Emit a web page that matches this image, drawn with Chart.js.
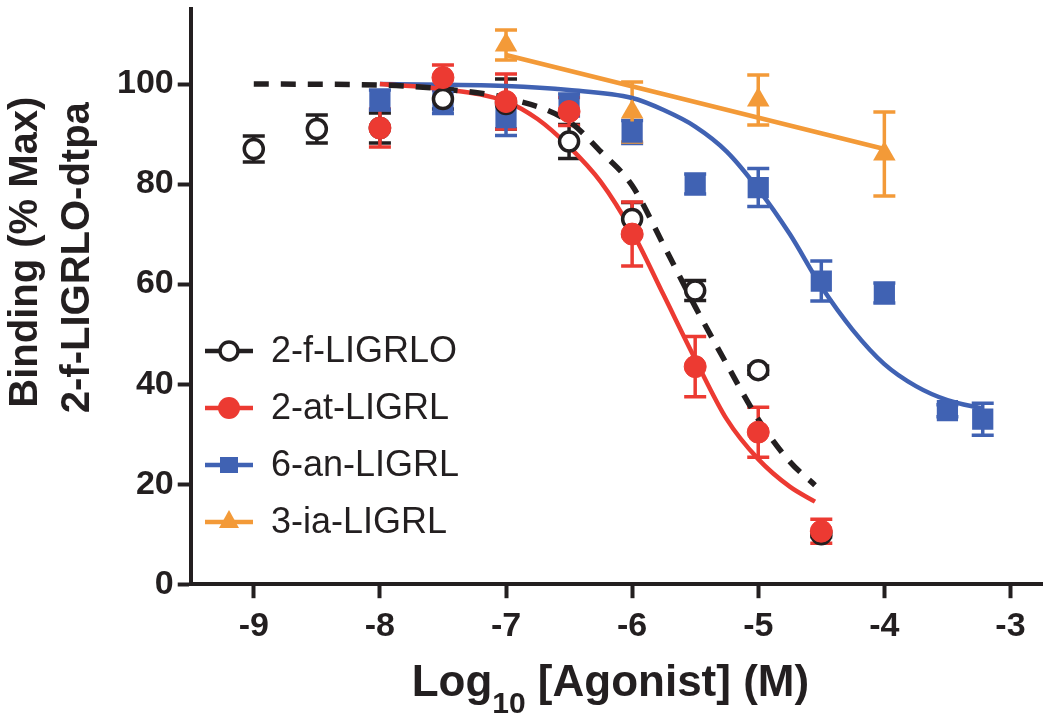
<!DOCTYPE html>
<html>
<head>
<meta charset="utf-8">
<script src="https://cdn.jsdelivr.net/npm/chart.js@4.4.1/dist/chart.umd.min.js"></script>
<style>
  html, body { margin: 0; padding: 0; background: #fff; }
  canvas { display: block; }
</style>
</head>
<body>
<canvas id="grafico" width="1050" height="721"></canvas>
<script>
// Datos: log10 [agonista] (M) y union (% max)
const nombres = ['2-f-LIGRLO', '2-at-LIGRL', '6-an-LIGRL', '3-ia-LIGRL'];
const colores = ['#231f20', '#ec3a32', '#4062b3', '#f39a38'];

// marcas de los ejes (los extremos no llevan etiqueta)
const marcasX = [-9.5, -9, -8, -7, -6, -5, -4, -3, -2.75];
const marcasY = [0, 20, 40, 60, 80, 100, 115];

// puntos medidos con su error
const xF = [-9, -8.5, -8, -7.5, -7, -6.5, -6, -5.5, -5, -4.5];
const yF = [87, 91, 91.2, 97, 96, 88.5, 73, 58.7, 42.8, 10];
const errF = [2.6, 2.8, 3, 2, 5, 3.4, 3.3, 2, 0.8, 0.5];

const xAt = [-8, -7.5, -7, -6.5, -6, -5.5, -5, -4.5];
const yAt = [91.2, 101.3, 96.5, 94.5, 70, 43.5, 30.4, 10.6];
const errAt = [3.8, 2.5, 5.5, 2.8, 6.4, 6, 5, 2.4];

const xAn = [-8, -7.5, -7, -6.5, -6, -5.5, -5, -4.5, -4, -3.5, -3.22];
const yAn = [96.8, 96.5, 93.3, 95.8, 90.4, 80, 79.3, 60.6, 58.2, 34.7, 33];
const errAn = [2, 2.4, 3.6, 2.2, 2.3, 2, 3.8, 4, 2, 1.2, 3.2];

const xIa = [-7, -6, -5, -4];
const yIa = [107.8, 94.4, 96.8, 86];
const errIa = [3, 6, 5, 8.4];

// curvas ajustadas
const curvaFx = [-9, -8, -7.5, -7, -6.5, -6.25, -6, -5.75, -5.5, -5.25, -5, -4.75, -4.55];
const curvaFy = [100, 99.8, 99, 97.2, 92.5, 86.5, 79.7, 67.8, 55.5, 44, 33, 24.5, 19.8];
const curvaAtx = [-8, -7.5, -7, -6.75, -6.5, -6.25, -6, -5.75, -5.5, -5.25, -5, -4.75, -4.55];
const curvaAty = [100, 99, 96.5, 93, 87.5, 80.5, 70.5, 57.8, 45, 33, 25, 19.5, 16.5];
const curvaAnx = [-8, -7, -6.5, -6, -5.75, -5.5, -5.25, -5, -4.75, -4.5, -4.25, -4, -3.75, -3.5, -3.22];
const curvaAny = [100, 99.6, 98.8, 97.2, 94.8, 91.5, 86.5, 79, 70, 59.5, 50.8, 44, 39.6, 36.8, 35.1];
const curvaIax = [-7, -4];
const curvaIay = [105.8, 87];

const fuente = '"Liberation Sans", Arial, Helvetica, sans-serif';
const colorEje = '#231f20';
const fuenteMarca = { family: fuente, size: 34, weight: 'bold' };
const fuenteOculta = { family: fuente, size: 1 };

function puntos(xs, ys) {
    return xs.map((x, i) => ({ x: x, y: ys[i] }));
}

function curva(xs, ys, color, dash) {
    return {
        type: 'line',
        data: puntos(xs, ys),
        borderColor: color,
        borderWidth: dash ? 5.5 : 4.5,
        borderDash: dash || [],
        borderCapStyle: 'butt',
        pointRadius: 0,
        cubicInterpolationMode: 'monotone',
        fill: false,
        order: 10
    };
}

function serie(xs, ys, errores, color, estilo, radio, relleno, borde, orden) {
    return {
        type: 'line',
        data: puntos(xs, ys),
        errores: errores,
        showLine: false,
        pointStyle: estilo,
        pointRadius: radio,
        pointBackgroundColor: relleno,
        pointBorderColor: color,
        pointBorderWidth: borde,
        borderColor: color,
        order: orden
    };
}

// Barras de error dibujadas con las escalas del grafico
const barrasError = {
    id: 'barrasError',
    beforeDatasetsDraw(chart) {
        const ctx = chart.ctx;
        const sx = chart.scales.x;
        const sy = chart.scales.y;
        ctx.save();
        chart.data.datasets.forEach(ds => {
            if (!ds.errores) return;
            ctx.strokeStyle = ds.borderColor;
            ctx.lineWidth = 3.5;
            ds.data.forEach((p, i) => {
                const e = ds.errores[i];
                const px = sx.getPixelForValue(p.x);
                const arriba = sy.getPixelForValue(p.y + e);
                const abajo = sy.getPixelForValue(p.y - e);
                ctx.beginPath();
                ctx.moveTo(px, arriba);
                ctx.lineTo(px, abajo);
                ctx.moveTo(px - 11, arriba);
                ctx.lineTo(px + 11, arriba);
                ctx.moveTo(px - 11, abajo);
                ctx.lineTo(px + 11, abajo);
                ctx.stroke();
            });
        });
        ctx.restore();
    }
};

// Leyenda dentro del area del grafico, con linea y marcador
function dibujarMarcador(ctx, tipo, x, y, color) {
    ctx.fillStyle = color;
    ctx.strokeStyle = color;
    ctx.beginPath();
    if (tipo === 'abierto') {
        ctx.fillStyle = '#fff';
        ctx.lineWidth = 3.5;
        ctx.arc(x, y, 9, 0, Math.PI * 2);
        ctx.fill();
        ctx.stroke();
    } else if (tipo === 'circulo') {
        ctx.arc(x, y, 11, 0, Math.PI * 2);
        ctx.fill();
    } else if (tipo === 'cuadro') {
        ctx.rect(x - 9, y - 8, 18, 16);
        ctx.fill();
    } else {
        ctx.moveTo(x, y - 12);
        ctx.lineTo(x + 10, y + 6);
        ctx.lineTo(x - 10, y + 6);
        ctx.closePath();
        ctx.fill();
    }
}

const leyenda = {
    id: 'leyenda',
    afterDraw(chart) {
        const ctx = chart.ctx;
        const tipos = ['abierto', 'circulo', 'cuadro', 'triangulo'];
        ctx.save();
        nombres.forEach((nombre, i) => {
            const y = 351 + i * 57;
            ctx.strokeStyle = colores[i];
            ctx.lineWidth = 4.5;
            ctx.beginPath();
            ctx.moveTo(205, y);
            ctx.lineTo(253, y);
            ctx.stroke();
            dibujarMarcador(ctx, tipos[i], 229, y, colores[i]);
            ctx.fillStyle = colorEje;
            ctx.font = '36px ' + fuente;
            ctx.textBaseline = 'middle';
            ctx.textAlign = 'left';
            ctx.fillText(nombre, 271, y + 1);
        });
        ctx.restore();
    }
};

// Titulo del eje X con subindice
const tituloEjeX = {
    id: 'tituloEjeX',
    afterDraw(chart) {
        const ctx = chart.ctx;
        const area = chart.chartArea;
        const partes = [
            { t: 'Log', f: 'bold 44px ' + fuente, dy: 0 },
            { t: '10', f: 'bold 30px ' + fuente, dy: 17 },
            { t: ' [Agonist] (M)', f: 'bold 44px ' + fuente, dy: 0 }
        ];
        ctx.save();
        let total = 0;
        partes.forEach(p => { ctx.font = p.f; p.w = ctx.measureText(p.t).width; total += p.w; });
        let x = (area.left + area.right) / 2 - 6 - total / 2;
        const base = area.bottom + 112;
        ctx.fillStyle = colorEje;
        ctx.textBaseline = 'alphabetic';
        ctx.textAlign = 'left';
        partes.forEach(p => {
            ctx.font = p.f;
            ctx.fillText(p.t, x, base + p.dy);
            x += p.w;
        });
        ctx.restore();
    }
};

// los extremos del eje llevan etiqueta vacia y marca transparente
const visibleX = v => Number.isInteger(v);
const visibleY = v => v % 20 === 0;

function opcionesEje(marcas, visible, largo, padding) {
    return {
        type: 'linear',
        min: marcas[0],
        max: marcas[marcas.length - 1],
        afterBuildTicks: s => { s.ticks = marcas.map(v => ({ value: v })); },
        ticks: {
            padding: padding,
            color: colorEje,
            callback: v => visible(v) ? String(v) : '',
            font: c => (c.tick && visible(c.tick.value)) ? fuenteMarca : fuenteOculta
        },
        grid: {
            drawOnChartArea: false,
            drawTicks: true,
            tickLength: largo,
            tickWidth: 4,
            tickColor: c => (c.tick && visible(c.tick.value)) ? colorEje : 'rgba(0,0,0,0)'
        },
        border: { width: 4, color: colorEje }
    };
}

const datasets = [
    serie(xF, yF, errF, colores[0], 'circle', 9.5, '#fff', 3.5, 3),
    serie(xAt, yAt, errAt, colores[1], 'circle', 11, colores[1], 1, 2),
    serie(xAn, yAn, errAn, colores[2], 'rect', 15, colores[2], 0, 5),
    serie(xIa, yIa, errIa, colores[3], 'triangle', 13, colores[3], 0, 4),
    curva(curvaFx, curvaFy, colores[0], [15, 12]),
    curva(curvaAtx, curvaAty, colores[1]),
    curva(curvaAnx, curvaAny, colores[2]),
    curva(curvaIax, curvaIay, colores[3])
];

const ejeY = opcionesEje(marcasY, visibleY, 13, 4);
ejeY.title = {
    display: true,
    text: ['        Binding (% Max)', '       2-f-LIGRLO-dtpa'],
    color: colorEje,
    font: { family: fuente, size: 40, weight: 'bold', lineHeight: 1.3 },
    padding: { top: 0, bottom: 9 }
};

const ctx = document.getElementById('grafico').getContext('2d');
window.myChart = new Chart(ctx, {
    type: 'line',
    data: { datasets: datasets },
    plugins: [barrasError, leyenda, tituloEjeX],
    options: {
        responsive: false,
        animation: false,
        devicePixelRatio: 1,
        layout: { autoPadding: false, padding: { left: 0, right: 3, top: 9, bottom: 66 } },
        plugins: {
            legend: { display: false },
            tooltip: { enabled: false }
        },
        scales: {
            x: opcionesEje(marcasX, visibleX, 14, 8),
            y: ejeY
        }
    }
});
</script>
</body>
</html>
